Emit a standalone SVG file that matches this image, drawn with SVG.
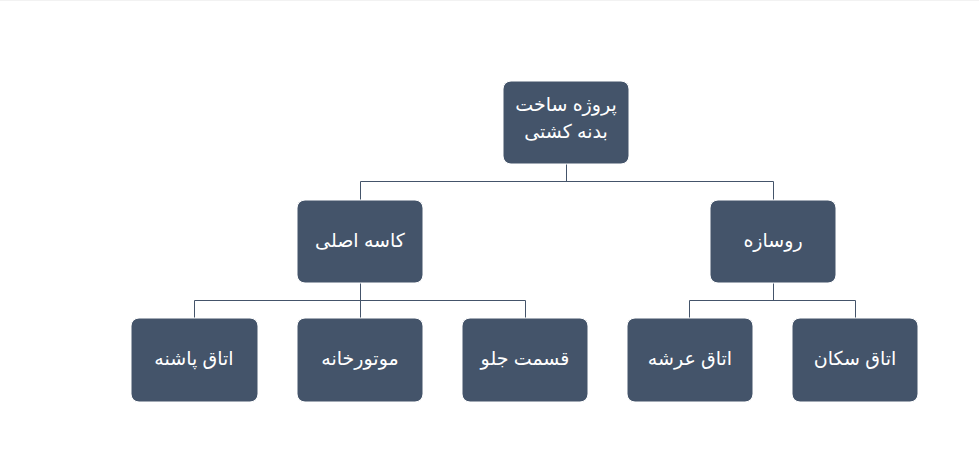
<svg xmlns="http://www.w3.org/2000/svg" width="979" height="461" viewBox="0 0 979 461">
<style>
.box{fill:#44546A;stroke:#FFFFFF;stroke-width:1}
.lbl{fill:#FFFFFF;font-family:"Liberation Sans","DejaVu Sans",sans-serif;font-size:19px;text-anchor:middle;direction:rtl}
.conn{fill:none;stroke:#44546A;stroke-width:1}
</style>
<rect width="979" height="461" fill="#FFFFFF"/>
<line x1="0" y1="0.5" x2="979" y2="0.5" stroke="#F2F2F2"/>
<g id="connectors">
<path class="conn" d="M566.5 164 V181.5 M360.5 200 V181.5 H773.5 V200"/>
<path class="conn" d="M360.5 283 V300.5 M194.5 318 V300.5 H525.5 V318 M360.5 300.5 V318"/>
<path class="conn" d="M773.5 283 V300.5 M689.5 318 V300.5 H855.5 V318"/>
</g>
<g id="root"><rect class="box" x="503" y="81" width="126" height="83" rx="8"/>
<text class="lbl" x="566" y="111">پروژه ساخت</text><text class="lbl" x="566" y="138">بدنه کشتی</text></g>
<g id="kase"><rect class="box" x="297" y="200" width="126" height="83" rx="8"/>
<text class="lbl" x="360" y="247">کاسه اصلی</text></g>
<g id="rusaze"><rect class="box" x="710" y="200" width="126" height="83" rx="8"/>
<text class="lbl" x="773" y="247">روسازه</text></g>
<g id="pashne"><rect class="box" x="131" y="318" width="127" height="84" rx="8"/>
<text class="lbl" x="194" y="365">اتاق پاشنه</text></g>
<g id="motor"><rect class="box" x="297" y="318" width="126" height="84" rx="8"/>
<text class="lbl" x="360" y="365">موتورخانه</text></g>
<g id="jelo"><rect class="box" x="462" y="318" width="126" height="84" rx="8"/>
<text class="lbl" x="525" y="365">قسمت جلو</text></g>
<g id="arshe"><rect class="box" x="627" y="318" width="126" height="84" rx="8"/>
<text class="lbl" x="690" y="365">اتاق عرشه</text></g>
<g id="sokan"><rect class="box" x="792" y="318" width="126" height="84" rx="8"/>
<text class="lbl" x="855" y="365">اتاق سکان</text></g>
</svg>
